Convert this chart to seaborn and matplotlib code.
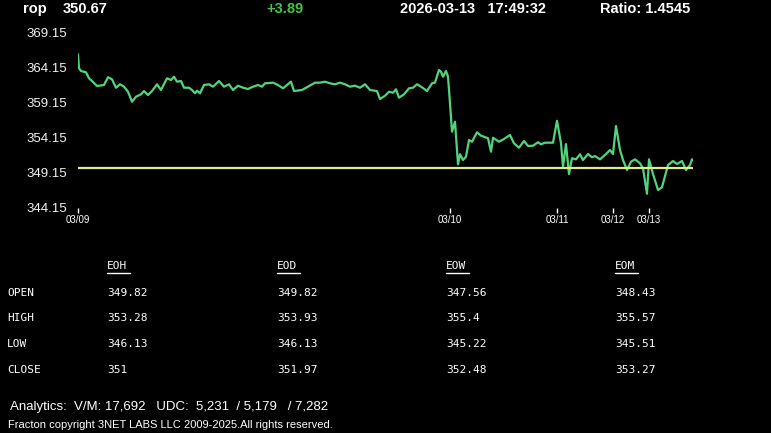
import numpy as np
import pandas as pd
import matplotlib
matplotlib.use("Agg")
import matplotlib.pyplot as plt
import seaborn as sns
from matplotlib.lines import Line2D

# -------------------- DATA --------------------
symbol = "rop"
last_price = "350.67"
change = "+3.89"
stamp = "2026-03-13   17:49:32"
ratio = "Ratio: 1.4545"

# bar number (intraday sample index) and price
bar_pos = [0, 1, 3, 8, 11, 14, 19, 26, 30, 34, 38, 42, 46, 50, 54, 58, 63, 66, 70, 74,
           79, 83, 89, 93, 96, 99, 103, 106, 111, 114, 117, 119, 122, 126, 131, 135, 141, 146, 151, 155,
           160, 165, 170, 175, 180, 184, 187, 195, 200, 205, 209, 213, 216, 224, 230, 237, 242, 247, 252, 257,
           262, 267, 272, 277, 282, 287, 292, 299, 302, 307, 311,
           315, 318, 321, 326, 331, 335, 339, 344, 349, 354, 357, 361, 363, 365, 368, 370, 372, 374, 377,
           380, 382, 385, 388, 391, 394, 399, 403, 406, 410, 413, 415, 421, 426, 432, 436, 441, 446, 450, 455,
           460, 463, 467, 475, 479, 483, 485, 488, 491, 494, 498, 502, 505, 510, 514, 517, 522, 527, 532, 535,
           538, 542, 545, 549, 553, 557, 562, 565, 569, 571, 575, 580, 584, 590, 595, 599, 604, 608, 612, 614, 615]
price = [366.00, 364.01, 363.62, 363.44, 362.58, 362.20, 361.49, 361.63, 362.73, 362.44,
         361.24, 361.73, 361.39, 360.67, 359.25, 359.96, 360.30, 360.77, 360.20, 360.77,
         361.73, 360.92, 362.58, 362.34, 362.81, 362.10, 362.20, 361.24, 361.24, 360.92,
         360.45, 360.82, 360.45, 361.63, 361.73, 361.39, 362.20, 361.39, 361.73, 360.92,
         361.53, 361.24, 361.06, 361.39, 361.63, 361.39, 361.87, 361.96, 361.63, 361.16,
         361.63, 362.10, 360.77, 360.92, 361.39, 361.96, 361.96, 362.10, 361.87, 361.73,
         361.96, 361.73, 361.39, 361.53, 361.24, 361.73, 360.92, 360.77, 359.63, 360.10, 360.67,
         360.53, 361.02, 359.82, 360.30, 361.16, 361.24, 361.73, 361.30, 360.77, 361.87,
         361.96, 363.77, 363.52, 362.81, 363.62, 362.81, 359.02, 354.98, 356.40, 350.33,
         351.76, 350.94, 351.41, 353.79, 353.55, 354.89, 354.41, 354.26, 354.04, 352.13,
         354.12, 353.55, 353.94, 354.51, 353.32, 352.70, 353.65, 352.94, 352.98, 353.47,
         353.18, 353.41, 353.41, 356.54, 353.32, 349.99, 353.22, 348.95, 351.19, 351.04,
         351.76, 350.94, 351.80, 351.33, 351.51, 351.04, 351.66, 352.37, 351.80, 355.79,
         352.37, 350.94, 349.52, 350.70, 351.04, 350.47, 349.76, 346.13, 351.04, 348.95,
         346.67, 347.06, 350.23, 350.80, 350.38, 350.80, 349.52, 350.23, 351.04, 351.00]
ref_level = 349.82

date_pos = [0, 372, 479, 535, 571]
date_labels = ["03/09", "03/10", "03/11", "03/12", "03/13"]
y_ticks = [344.15, 349.15, 354.15, 359.15, 364.15, 369.15]

col_heads = ["EOH", "EOD", "EOW", "EOM"]
row_heads = ["OPEN", "HIGH", "LOW", "CLOSE"]
eoh = ["349.82", "353.28", "346.13", "351"]
eod = ["349.82", "353.93", "346.13", "351.97"]
eow = ["347.56", "355.4", "345.22", "352.48"]
eom = ["348.43", "355.57", "345.51", "353.27"]

analytics = "Analytics:  V/M: 17,692   UDC:  5,231  / 5,179   / 7,282"
footer = "Fracton copyright 3NET LABS LLC 2009-2025.All rights reserved."

# -------------------- FIGURE --------------------
sns.set_theme(style="dark")
plt.rcParams["font.family"] = ["Liberation Sans", "DejaVu Sans"]

W, H = 771, 433
fig = plt.figure(figsize=(W / 100, H / 100), dpi=100, facecolor="black")
ax = fig.add_axes([78 / W, 1 - 207.7 / H, 615 / W, 175.5 / H])
ax.set_facecolor("black")

df = pd.DataFrame({"bar": bar_pos, "price": price})
sns.lineplot(data=df, x="bar", y="price", ax=ax, color="#52d47c", linewidth=1.6)
ax.axhline(ref_level, color="#dfe98e", linewidth=1.6)

ax.set_xlim(0, 615)
ax.set_ylim(344.15, 369.15)
ax.set_yticks(y_ticks)
ax.set_yticklabels([f"{v:.2f}" for v in y_ticks])
ax.set_xticks(date_pos)
ax.set_xticklabels(date_labels)
ax.tick_params(axis="y", length=0, pad=8, labelsize=9.5, labelcolor="#f2f2f2")
ax.tick_params(axis="x", length=3.5, width=1, color="white", pad=1.5,
               labelsize=7, labelcolor="white", direction="out", bottom=True)
ax.set_xlabel("")
ax.set_ylabel("")
ax.grid(False)
for s in ax.spines.values():
    s.set_visible(False)

# -------------------- HEADER --------------------
def ftext(x, y, s, **kw):
    fig.text(x / W, 1 - y / H, s, va="center", **kw)

ftext(23, 9, symbol, color="white", fontsize=10.5, fontweight="bold")
ftext(63, 9, last_price, color="white", fontsize=10.5, fontweight="bold")
ftext(266, 9, change, color="#45c445", fontsize=10.5, fontweight="bold")
ftext(400, 9, stamp, color="white", fontsize=10.5, fontweight="bold")
ftext(600, 9, ratio, color="white", fontsize=10.5, fontweight="bold")

# -------------------- TABLE --------------------
mono = ["DejaVu Sans Mono"]
col_x = [107, 277, 446, 615]
row_y = [293, 318, 344, 370]
for cx, head, vals in zip(col_x, col_heads, [eoh, eod, eow, eom]):
    ftext(cx, 266, head, color="white", fontsize=8, family=mono)
    fig.add_artist(Line2D([cx / W, (cx + 23) / W], [1 - 272.5 / H, 1 - 272.5 / H],
                          color="white", linewidth=1))
    for ry, v in zip(row_y, vals):
        ftext(cx, ry, v, color="white", fontsize=8, family=mono)
for ry, lab in zip(row_y, row_heads):
    ftext(7, ry, lab, color="white", fontsize=8, family=mono)

# -------------------- FOOTER --------------------
ftext(10, 407, analytics, color="white", fontsize=9.5)
ftext(8, 425, footer, color="white", fontsize=8)

fig.savefig("out.png", dpi=100, facecolor="black")
